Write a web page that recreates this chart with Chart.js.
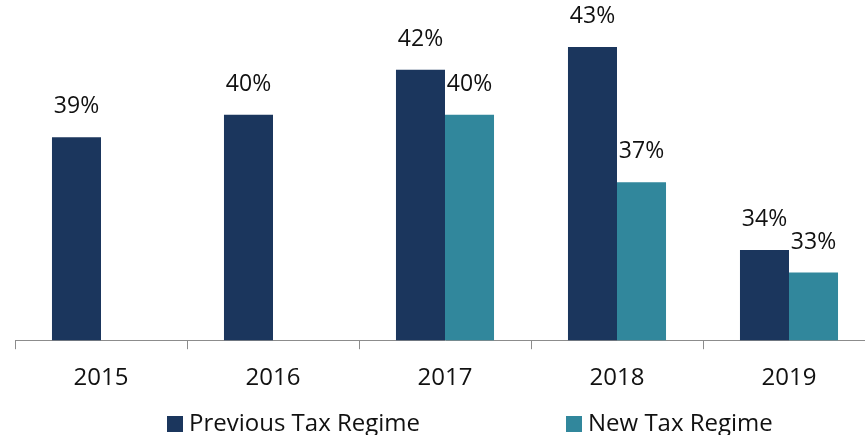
<!DOCTYPE html>
<html>
<head>
<meta charset="utf-8">
<script src="https://cdn.jsdelivr.net/npm/chart.js@4.4.1/dist/chart.umd.min.js"></script>
<style>
    html, body { margin: 0; padding: 0; background: #fff; overflow: hidden; }
    #wrap { width: 880px; height: 435px; }
</style>
</head>
<body>
<div id="wrap"><canvas id="taxChart"></canvas></div>
<script>
const years = ['2015', '2016', '2017', '2018', '2019'];
const previousRegime = [39, 40, 42, 43, 34];
const newRegime = [null, null, 40, 37, 33];
const seriesNames = ['Previous Tax Regime', 'New Tax Regime'];
const seriesColors = ['#1b365d', '#31879c'];

const fontFamily = "'Open Sans', sans-serif";

// draw the % labels above each bar
const barLabels = {
    id: 'barLabels',
    afterDatasetsDraw(chart) {
        const ctx = chart.ctx;
        ctx.save();
        ctx.font = '23px ' + fontFamily;
        ctx.fillStyle = '#111';
        ctx.textAlign = 'center';
        ctx.textBaseline = 'alphabetic';
        chart.data.datasets.forEach((ds, i) => {
            chart.getDatasetMeta(i).data.forEach((bar, j) => {
                if (ds.data[j] == null) return;
                ctx.fillText(ds.data[j] + '%', bar.x, bar.y - 24);
            });
        });
        ctx.restore();
    }
};

// legend laid out like the original: two items spread apart under the axis
const spreadLegend = {
    id: 'spreadLegend',
    afterDraw(chart) {
        const ctx = chart.ctx;
        const starts = [167, 566];
        const y = 424;
        ctx.save();
        ctx.font = '24px ' + fontFamily;
        ctx.textBaseline = 'middle';
        ctx.textAlign = 'left';
        chart.data.datasets.forEach((ds, i) => {
            ctx.fillStyle = ds.backgroundColor;
            ctx.fillRect(starts[i], y - 8, 16, 16);
            ctx.fillStyle = '#111';
            ctx.fillText(ds.label, starts[i] + 22, y);
        });
        ctx.restore();
    }
};

new Chart(document.getElementById('taxChart').getContext('2d'), {
    type: 'bar',
    data: {
        labels: years,
        datasets: [
            { label: seriesNames[0], data: previousRegime, backgroundColor: seriesColors[0] },
            { label: seriesNames[1], data: newRegime, backgroundColor: seriesColors[1] }
        ]
    },
    options: {
        responsive: true,
        maintainAspectRatio: false,
        animation: false,
        datasets: {
            bar: { barPercentage: 1, categoryPercentage: 0.57 }
        },
        layout: { padding: { left: 15, right: 5, top: 2, bottom: 27 } },
        scales: {
            x: {
                grid: {
                    display: true,
                    drawOnChartArea: false,
                    offset: true,
                    tickLength: 9,
                    color: '#8c8c8c'
                },
                border: { color: '#8c8c8c', width: 1 },
                ticks: {
                    color: '#111',
                    font: { family: fontFamily, size: 24 },
                    padding: 15
                }
            },
            y: {
                display: false,
                min: 30,
                max: 45
            }
        },
        plugins: {
            legend: { display: false },
            tooltip: { enabled: false }
        }
    },
    plugins: [barLabels, spreadLegend]
});
</script>
</body>
</html>
